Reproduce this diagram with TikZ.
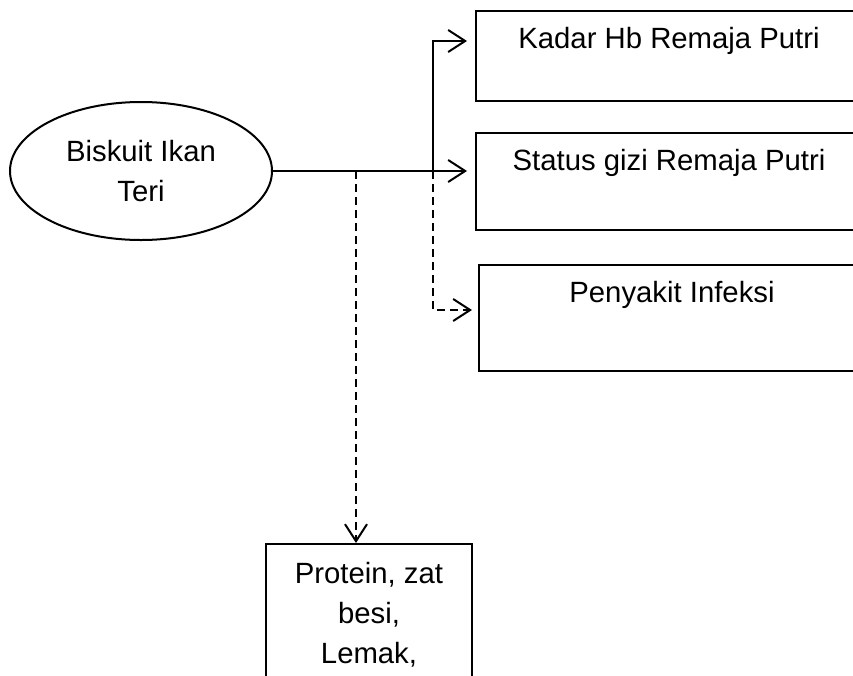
\documentclass[tikz,border=0pt]{standalone}
\usepackage{fontspec}
\setmainfont{Liberation Sans}
\usetikzlibrary{arrows.meta,shapes.geometric}
\begin{document}
\begin{tikzpicture}[x=1pt,y=-1pt,
  every node/.style={font=\fontsize{29.3}{40}\selectfont},
  conn/.style={line width=2pt,-{Straight Barb[length=17pt,width=22pt]}},
  dashconn/.style={conn,dash pattern=on 8pt off 5pt},
  box/.style={draw,line width=2pt,rectangle,inner sep=0pt,anchor=north west},
  lbl/.style={anchor=base,align=center}]
\clip (0,0) rectangle (853,675);

% source
\node[draw,ellipse,line width=2pt,minimum width=262pt,minimum height=138pt,
      inner sep=0pt,align=center] (src) at (141,171) {Biskuit Ikan\\Teri};

% outcome boxes
\node[box,minimum width=386pt,minimum height=90pt]  (k1) at (475,10)  {};
\node[box,minimum width=386pt,minimum height=97pt]  (k2) at (475,132) {};
\node[box,minimum width=386pt,minimum height=106pt] (k3) at (478,264) {};
\node[box,minimum width=206pt,minimum height=200pt] (k4) at (265,543) {};

\node[lbl] (k1t) at ([yshift=-38pt]k1.north) {Kadar Hb Remaja Putri};
\node[lbl] (k2t) at ([yshift=-38pt]k2.north) {Status gizi Remaja Putri};
\node[lbl] (k3t) at ([yshift=-38pt]k3.north) {Penyakit Infeksi};
\node[anchor=north,align=center,inner sep=0pt] (k4t) at ([yshift=-19pt]k4.north)
  {Protein, zat\\besi,\\Lemak,};

% branch points
\coordinate (b1) at (356,171);
\coordinate (j1) at (433,171);
\coordinate (up) at (433,41);
\coordinate (dn) at (433,310);

% connectors
\draw[conn,shorten >=8pt] (src.east) -- (src.east -| k2.west);
\draw[conn,shorten >=8pt] (j1) -- (up) -- (up -| k1.west);
\draw[dashconn,shorten >=6pt] (j1) -- (dn) -- (dn -| k3.west);
\draw[dashconn] (b1) -- (b1 |- k4.north);
\end{tikzpicture}
\end{document}
